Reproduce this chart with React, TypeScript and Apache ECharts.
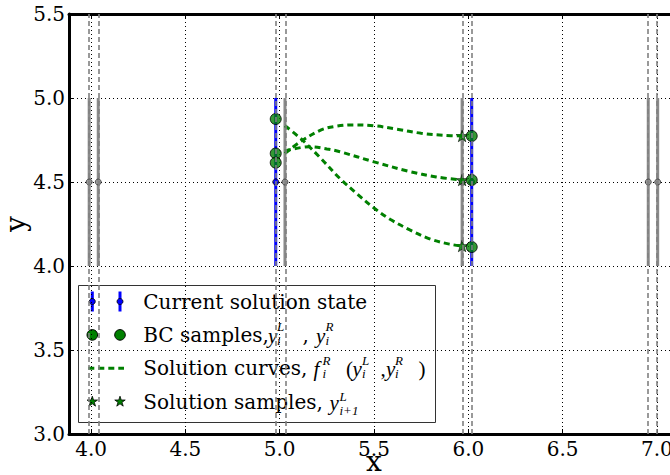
import React, { useEffect, useRef } from "react";
import * as echarts from "echarts";

// Axis extents
const xRange = [3.883, 7.117];
const yRange = [3.0, 5.5];
const yTickStep = 0.5;

// Left / right sides of every node (dashed guide lines)
const nodeSides = [3.99, 4.038, 4.979, 5.028, 5.967, 6.018, 6.954, 7.004];

// Solution state bars: centre and half-height
const stateCenter = 4.5;
const stateHalf = 0.5;
const currentSides = [4.979, 6.018];
const otherSides = [3.99, 4.038, 5.028, 5.967, 6.954, 7.004];

// Boundary-condition samples
const bcLeftX = 4.979;
const bcLeftY = [4.875, 4.67, 4.615];
const bcRightX = 6.018;
const bcRightY = [4.774, 4.512, 4.113];

// Solution samples at the next node
const sampleX = 5.967;
const sampleY = [4.774, 4.512, 4.119];

// Solution curves
const curveAx = [5.028, 5.12, 5.21, 5.32, 5.41, 5.5, 5.59, 5.69, 5.8, 5.9, 5.967];
const curveAy = [4.835, 4.75, 4.65, 4.52, 4.43, 4.345, 4.275, 4.215, 4.16, 4.13, 4.119];
const curveBx = [5.028, 5.11, 5.22, 5.3, 5.39, 5.5, 5.62, 5.75, 5.87, 5.967];
const curveBy = [4.67, 4.74, 4.81, 4.832, 4.84, 4.835, 4.815, 4.79, 4.778, 4.774];
const curveCx = [5.028, 5.16, 5.25, 5.32, 5.5, 5.68, 5.83, 5.967];
const curveCy = [4.685, 4.71, 4.697, 4.68, 4.62, 4.565, 4.53, 4.512];

const SERIF = "'DejaVu Serif', 'Liberation Serif', serif";
const MATH = "'Liberation Serif', 'DejaVu Serif', serif";
const GREEN = "#008000";
const BLUE = "#0000ff";
const GRAY = "#8a8a8a";

function starPoints(cx: number, cy: number, r: number): number[][] {
  const pts: number[][] = [];
  for (let k = 0; k < 10; k++) {
    const rr = k % 2 === 0 ? r : r * 0.382;
    const a = -Math.PI / 2 + (k * Math.PI) / 5;
    pts.push([cx + rr * Math.cos(a), cy + rr * Math.sin(a)]);
  }
  return pts;
}
const STAR =
  "path://" +
  starPoints(100, 100, 100)
    .map((p, i) => (i ? "L" : "M") + p[0].toFixed(2) + "," + p[1].toFixed(2))
    .join(" ") +
  " Z";

const zip = (xs: number[], ys: number[]) => xs.map((x, i) => [x, ys[i]]);

function errorBars(xs: number[], color: string) {
  return {
    type: "custom",
    silent: true,
    data: xs.map((x) => [x, stateCenter, stateHalf]),
    renderItem: (_p: any, api: any) => {
      const x = api.value(0);
      const c = api.value(1);
      const e = api.value(2);
      const a = api.coord([x, c + e]);
      const b = api.coord([x, c - e]);
      return {
        type: "line",
        shape: { x1: a[0], y1: a[1], x2: b[0], y2: b[1] },
        style: { stroke: color, lineWidth: 3 },
      };
    },
  };
}

// Legend layout
const LG = { x: 78.5, y: 285.5, w: 357, h: 137 };
const rowY = [301.5, 334.9, 368.3, 401.7];
const handleX = [92.3, 120];
const textX = 143.3;
const FS = 20;
const SFS = 13;

function txt(x: number, y: number, s: string, opts: any = {}) {
  return {
    type: "text",
    x,
    y,
    silent: true,
    style: {
      text: s,
      fill: "#000",
      fontFamily: opts.family || SERIF,
      fontSize: opts.size || FS,
      fontStyle: opts.italic ? "italic" : "normal",
      verticalAlign: "middle",
      align: "left",
    },
  };
}
function mathVar(x: number, cy: number, base: string, sup: string, sub: string, supX: number, supDy = -8, subDy = 5.5) {
  return [
    txt(x, cy + 1, base, { family: MATH, italic: true, size: FS + 1 }),
    txt(supX, cy + supDy, sup, { family: MATH, italic: true, size: SFS }),
    txt(supX, cy + subDy, sub, { family: MATH, italic: true, size: SFS }),
  ];
}

function legendGraphic() {
  const els: any[] = [];
  els.push({
    type: "rect",
    shape: { x: LG.x, y: LG.y, width: LG.w, height: LG.h },
    style: { fill: "#fff", stroke: "#333", lineWidth: 1 },
    silent: true,
  });
  // row 1: current solution state
  handleX.forEach((hx) => {
    els.push({
      type: "line",
      shape: { x1: hx, y1: rowY[0] - 10, x2: hx, y2: rowY[0] + 10 },
      style: { stroke: BLUE, lineWidth: 3 },
    });
    els.push({
      type: "circle",
      shape: { cx: hx, cy: rowY[0], r: 3 },
      style: { fill: BLUE, stroke: "#000", lineWidth: 0.8 },
    });
  });
  els.push(txt(textX, rowY[0], "Current solution state"));
  // row 2: BC samples
  handleX.forEach((hx) => {
    els.push({
      type: "circle",
      shape: { cx: hx, cy: rowY[1], r: 5.3 },
      style: { fill: GREEN, stroke: "#000", lineWidth: 1 },
    });
  });
  els.push(txt(textX, rowY[1], "BC samples,"));
  els.push(...mathVar(268, rowY[1], "y", "L", "i", 277));
  els.push(txt(302.5, rowY[1], ","));
  els.push(...mathVar(316, rowY[1], "y", "R", "i", 325.5));
  // row 3: solution curves
  els.push({
    type: "line",
    shape: { x1: handleX[0] - 4, y1: rowY[2], x2: handleX[1] + 4, y2: rowY[2] },
    style: { stroke: GREEN, lineWidth: 3, lineDash: [6, 4] },
  });
  els.push(txt(textX, rowY[2], "Solution curves,"));
  els.push(...mathVar(313.5, rowY[2], "f", "R", "i", 322.5));
  els.push(txt(346, rowY[2] + 1, "(", { family: MATH, size: FS + 1 }));
  els.push(...mathVar(352.5, rowY[2], "y", "L", "i", 362));
  els.push(txt(380.5, rowY[2] + 1, ",", { family: MATH, size: FS + 1 }));
  els.push(...mathVar(386, rowY[2], "y", "R", "i", 395));
  els.push(txt(418.5, rowY[2] + 1, ")", { family: MATH, size: FS + 1 }));
  // row 4: solution samples
  handleX.forEach((hx) => {
    els.push({
      type: "polygon",
      shape: { points: starPoints(hx, rowY[3], 5.5) },
      style: { fill: GREEN, stroke: "#000", lineWidth: 0.8 },
    });
  });
  els.push(txt(textX, rowY[3], "Solution samples,"));
  els.push(...mathVar(329.5, rowY[3], "y", "L", "i+1", 339.5, -5.5, 8.5));
  return { type: "group", z: 100, children: els };
}

export default function App() {
  const ref = useRef<HTMLDivElement>(null);
  useEffect(() => {
    if (!ref.current) return;
    const chart = echarts.init(ref.current, null, { renderer: "svg" });
    const axisLine = { show: true, onZero: false, lineStyle: { color: "#000", width: 3 } };
    const tick = { show: true, inside: true, length: 5, lineStyle: { color: "#000", width: 1 } };
    const grid = { show: true, lineStyle: { color: "#000", width: 1, type: [1, 3] } };
    const label = { color: "#000", fontSize: 20, fontFamily: SERIF };
    chart.setOption({
      animation: false,
      backgroundColor: "#fff",
      grid: {
        left: 69,
        top: 14,
        width: 610,
        height: 420,
        containLabel: false,
        outerBoundsMode: "none",
      },
      xAxis: [
        {
          type: "value",
          min: xRange[0],
          max: xRange[1],
          position: "bottom",
          axisLine,
          axisTick: tick,
          splitLine: grid,
          axisLabel: {
            ...label,
            margin: 5,
            showMinLabel: false,
            showMaxLabel: false,
            formatter: (v: number) => v.toFixed(1),
          },
          name: "x",
          nameLocation: "middle",
          nameGap: 16,
          nameMoveOverlap: false,
          nameTextStyle: { color: "#000", fontSize: 28, lineHeight: 22, fontFamily: SERIF },
        },
        {
          type: "value",
          min: xRange[0],
          max: xRange[1],
          position: "top",
          axisLine,
          axisTick: tick,
          splitLine: { show: false },
          axisLabel: { show: false },
        },
      ],
      yAxis: [
        {
          type: "value",
          min: yRange[0],
          max: yRange[1],
          interval: yTickStep,
          position: "left",
          axisLine,
          axisTick: tick,
          splitLine: grid,
          axisLabel: { ...label, margin: 4, formatter: (v: number) => v.toFixed(1) },
          name: "y",
          nameLocation: "middle",
          nameGap: 40,
          nameMoveOverlap: false,
          nameTextStyle: { color: "#000", fontSize: 28, fontFamily: SERIF },
        },
        {
          type: "value",
          min: yRange[0],
          max: yRange[1],
          interval: yTickStep,
          position: "right",
          axisLine,
          axisTick: tick,
          splitLine: { show: false },
          axisLabel: { show: false },
        },
      ],
      series: [
        {
          type: "scatter",
          data: [],
          silent: true,
          markLine: {
            silent: true,
            symbol: ["none", "none"],
            label: { show: false },
            lineStyle: { color: "#808080", width: 1.6, type: [5, 3] },
            data: nodeSides.map((x) => ({ xAxis: x })),
          },
        },
        errorBars(otherSides, GRAY),
        errorBars(currentSides, BLUE),
        {
          type: "scatter",
          data: otherSides.map((x) => [x, stateCenter]),
          symbol: "circle",
          symbolSize: 6,
          itemStyle: { color: GRAY, borderColor: "#333", borderWidth: 1 },
        },
        {
          type: "scatter",
          data: currentSides.map((x) => [x, stateCenter]),
          symbol: "circle",
          symbolSize: 6,
          itemStyle: { color: BLUE, borderColor: "#000", borderWidth: 1 },
        },
        ...[zip(curveAx, curveAy), zip(curveBx, curveBy), zip(curveCx, curveCy)].map((d) => ({
          type: "line",
          data: d,
          smooth: 0.35,
          showSymbol: false,
          symbol: "none",
          lineStyle: { color: GREEN, width: 3, type: [6, 4] },
        })),
        {
          type: "scatter",
          data: sampleY.map((y) => [sampleX, y]),
          symbol: STAR,
          symbolKeepAspect: true,
          symbolSize: 12,
          itemStyle: { color: GREEN, borderColor: "#000", borderWidth: 0.8 },
        },
        {
          type: "scatter",
          data: [...bcLeftY.map((y) => [bcLeftX, y]), ...bcRightY.map((y) => [bcRightX, y])],
          symbol: "circle",
          symbolSize: 11,
          itemStyle: { color: GREEN, borderColor: "#000", borderWidth: 1 },
        },
      ],
      graphic: [legendGraphic()],
    });
    return () => chart.dispose();
  }, []);
  return <div ref={ref} style={{ position: "fixed", left: 0, top: 0, width: 670, height: 475 }} />;
}
